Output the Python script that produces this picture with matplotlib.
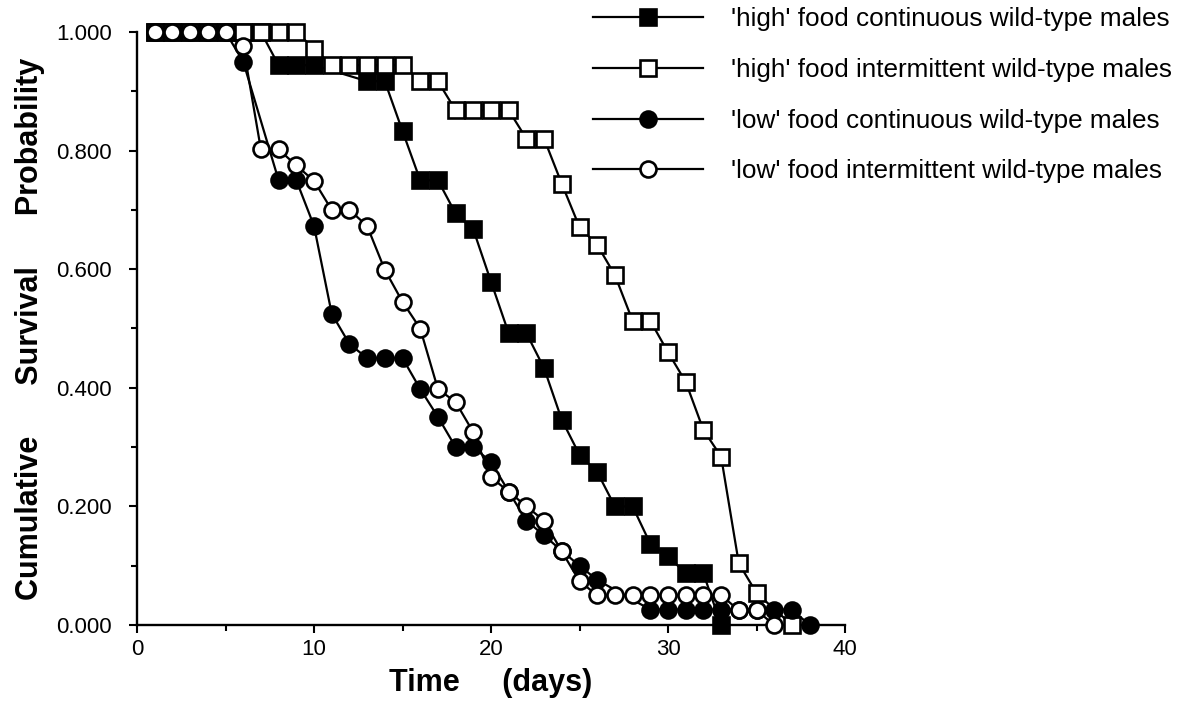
import matplotlib
matplotlib.use('Agg')
import matplotlib.pyplot as plt
from matplotlib.ticker import MultipleLocator, FormatStrFormatter

plt.rcParams['font.family'] = ['Liberation Sans', 'DejaVu Sans']

# Survival estimates (day, probability)
hc_days = [1, 2, 3, 4, 5, 6, 7, 8, 9, 10, 13, 14, 15, 16, 17, 18, 19, 20,
           21, 22, 23, 24, 25, 26, 27, 28, 29, 30, 31, 32, 33]
hc_surv = [1.0, 1.0, 1.0, 1.0, 1.0, 1.0, 1.0, 0.944, 0.944, 0.944, 0.917,
           0.917, 0.833, 0.750, 0.750, 0.694, 0.667, 0.579, 0.492, 0.492,
           0.433, 0.346, 0.287, 0.258, 0.200, 0.200, 0.137, 0.116, 0.087,
           0.087, 0.0]

hi_days = [1, 2, 3, 4, 5, 6, 7, 8, 9, 10, 11, 12, 13, 14, 15, 16, 17, 18,
           19, 20, 21, 22, 23, 24, 25, 26, 27, 28, 29, 30, 31, 32, 33, 34,
           35, 37]
hi_surv = [1.0, 1.0, 1.0, 1.0, 1.0, 1.0, 1.0, 1.0, 1.0, 0.972, 0.944, 0.944,
           0.944, 0.944, 0.944, 0.917, 0.917, 0.868, 0.868, 0.868, 0.868,
           0.820, 0.820, 0.744, 0.671, 0.641, 0.590, 0.513, 0.513, 0.460,
           0.410, 0.329, 0.284, 0.104, 0.054, 0.0]

lc_days = [1, 2, 3, 4, 5, 6, 8, 9, 10, 11, 12, 13, 14, 15, 16, 17, 18, 19,
           20, 21, 22, 23, 24, 25, 26, 29, 30, 31, 32, 33, 34, 35, 36, 37, 38]
lc_surv = [1.0, 1.0, 1.0, 1.0, 1.0, 0.950, 0.750, 0.750, 0.673, 0.525,
           0.474, 0.450, 0.450, 0.450, 0.398, 0.351, 0.300, 0.300, 0.275,
           0.225, 0.176, 0.151, 0.125, 0.100, 0.076, 0.026, 0.026, 0.026,
           0.026, 0.026, 0.026, 0.026, 0.026, 0.026, 0.0]

li_days = [1, 2, 3, 4, 5, 6, 7, 8, 9, 10, 11, 12, 13, 14, 15, 16, 17, 18,
           19, 20, 21, 22, 23, 24, 25, 26, 27, 28, 29, 30, 31, 32, 33, 34,
           35, 36]
li_surv = [1.0, 1.0, 1.0, 1.0, 1.0, 0.976, 0.802, 0.802, 0.775, 0.749,
           0.700, 0.700, 0.673, 0.599, 0.545, 0.500, 0.398, 0.376, 0.325,
           0.249, 0.225, 0.200, 0.176, 0.124, 0.074, 0.050, 0.050, 0.050,
           0.050, 0.050, 0.050, 0.050, 0.050, 0.025, 0.025, 0.0]

labels = ["'high' food continuous wild-type males",
          "'high' food intermittent wild-type males",
          "'low' food continuous wild-type males",
          "'low' food intermittent wild-type males"]

fig = plt.figure(figsize=(11.99, 7.14), dpi=100)
ax = fig.add_axes([137 / 1199, 1 - 625 / 714, (845 - 137) / 1199, (625 - 32) / 714])

style = dict(color='black', lw=1.6, ms=11.5, mew=1.9, clip_on=False)
series = [
    (hc_days, hc_surv, 's', 'black', 3),
    (hi_days, hi_surv, 's', 'white', 4),
    (lc_days, lc_surv, 'o', 'black', 5),
    (li_days, li_surv, 'o', 'white', 6),
]
handles = []
for (d, s, m, fc, z), lab in zip(series, labels):
    h, = ax.plot(d, s, marker=m, mfc=fc, mec='black', zorder=z, label=lab, **style)
    handles.append(h)

ax.set_xlim(0, 40)
ax.set_ylim(0, 1.0)
ax.spines['top'].set_visible(False)
ax.spines['right'].set_visible(False)
for sp in ('left', 'bottom'):
    ax.spines[sp].set_linewidth(1.7)

ax.xaxis.set_major_locator(MultipleLocator(10))
ax.xaxis.set_minor_locator(MultipleLocator(5))
ax.yaxis.set_major_locator(MultipleLocator(0.2))
ax.yaxis.set_minor_locator(MultipleLocator(0.1))
ax.yaxis.set_major_formatter(FormatStrFormatter('%.3f'))
ax.tick_params(which='major', direction='out', length=6, width=1.5, labelsize=16)
ax.tick_params(which='minor', direction='out', length=4, width=1.5)
ax.tick_params(axis='y', pad=12)
ax.tick_params(axis='x', pad=4)

ax.set_xlabel('Time     (days)', fontsize=22, fontweight='bold', labelpad=6)
ax.set_ylabel('Cumulative      Survival      Probability', fontsize=22,
              fontweight='bold', labelpad=8)

fig.legend(handles=handles, loc='upper left', bbox_to_anchor=(583 / 1199, 1 + 3 / 714),
           frameon=False, fontsize=18.8, handlelength=4.2, handletextpad=1.05,
           labelspacing=1.02, borderaxespad=0)

fig.savefig('out.png', dpi=100)
